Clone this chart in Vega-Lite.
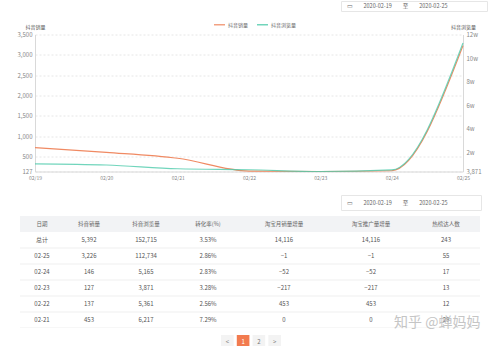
{
  "$schema": "https://vega.github.io/schema/vega-lite/v6.json",
  "background": "white",
  "padding": 0,
  "config": {"view": {"stroke": null}, "font": "Noto Sans CJK SC"},
  "datasets": {
    "trend": [
      {"date": "02/19", "sales": 715, "views": 10400},
      {"date": "02/20", "sales": 600, "views": 9400},
      {"date": "02/21", "sales": 453, "views": 6217},
      {"date": "02/22", "sales": 137, "views": 5361},
      {"date": "02/23", "sales": 127, "views": 3871},
      {"date": "02/24", "sales": 146, "views": 5165},
      {"date": "02/25", "sales": 3226, "views": 112734}
    ],
    "table": [
      {"d": "总计", "sales": 5392, "views": 152715, "conv": 0.0353, "tbm": 14116, "tbp": 14116, "hot": 243},
      {"d": "02-25", "sales": 3226, "views": 112734, "conv": 0.0286, "tbm": -1, "tbp": -1, "hot": 55},
      {"d": "02-24", "sales": 146, "views": 5165, "conv": 0.0283, "tbm": -52, "tbp": -52, "hot": 17},
      {"d": "02-23", "sales": 127, "views": 3871, "conv": 0.0328, "tbm": -217, "tbp": -217, "hot": 13},
      {"d": "02-22", "sales": 137, "views": 5361, "conv": 0.0256, "tbm": 453, "tbp": 453, "hot": 12},
      {"d": "02-21", "sales": 453, "views": 6217, "conv": 0.0729, "tbm": 0, "tbp": 0, "hot": 29}
    ]
  },
  "spacing": 13,
  "vconcat": [
    {
      "spacing": 12.5,
      "vconcat": [
        {
          "spacing": 0,
          "hconcat": [
            {"width": 340, "height": 10, "data": {"values": [{}]}, "mark": "text", "encoding": {"text": {"value": ""}}},
            {"width": 146, "height": 10, "view": {"stroke": "#e6e6e6"}, "data": {"values": [{}]},
             "mark": {"type": "text", "fontSize": 5.5, "color": "#666", "dx": -17},
             "encoding": {"text": {"value": "▭\u2003\u20032020-02-19\u2003\u2003至\u2003\u20032020-02-25"}}}
          ]
        },
        {
          "spacing": 0,
          "hconcat": [
            {"width": 17, "height": 1, "data": {"values": [{}]}, "mark": "text", "encoding": {"text": {"value": ""}}},
            {
              "width": 428,
              "height": 137,
              "data": {"name": "trend"},
              "encoding": {
                "x": {"field": "date", "type": "ordinal", "scale": {"type": "point", "padding": 0},
                      "axis": {"title": null, "labelAngle": 0, "labelFontSize": 5, "labelColor": "#888", "labelPadding": 4, "ticks": false, "domainColor": "#d9d9d9", "grid": false}}
              },
              "layer": [
                {
                  "mark": {"type": "line", "interpolate": "monotone", "strokeWidth": 1.2},
                  "encoding": {
                    "y": {"field": "sales", "type": "quantitative", "scale": {"domain": [127, 3500], "nice": false, "zero": false},
                          "axis": {"values": [127, 500, 1000, 1500, 2000, 2500, 3000, 3500], "format": ",.0f", "labelFontSize": 6, "labelColor": "#888", "labelPadding": 3, "ticks": false, "domainColor": "#d9d9d9", "gridColor": "#e6e6e6", "gridDash": [2, 2],
                                   "title": "抖音销量", "titleAngle": 0, "titleX": 0, "titleY": -8, "titleAlign": "center", "titleBaseline": "middle", "titleFontSize": 5, "titleFontWeight": "normal", "titleColor": "#555"}},
                    "color": {"datum": "抖音销量", "type": "nominal",
                              "scale": {"domain": ["抖音销量", "抖音浏览量"], "range": ["#f08a63", "#4ecbab"]},
                              "legend": {"orient": "none", "legendX": 213, "legendY": 17, "direction": "horizontal", "title": null, "symbolType": "stroke", "symbolSize": 120, "symbolStrokeWidth": 1.5, "labelFontSize": 5, "labelColor": "#666", "labelOffset": 2, "columnPadding": 5}}
                  }
                },
                {
                  "mark": {"type": "line", "interpolate": "monotone", "strokeWidth": 1.2, "opacity": 0.8},
                  "encoding": {
                    "y": {"field": "views", "type": "quantitative", "scale": {"domain": [3871, 120000], "nice": false, "zero": false},
                          "axis": {"orient": "right", "values": [3871, 20000, 40000, 60000, 80000, 100000, 120000], "labelExpr": "datum.value == 3871 ? '3,871' : (datum.value / 10000) + 'w'", "labelFontSize": 6, "labelColor": "#888", "labelPadding": 3, "ticks": false, "domainColor": "#d9d9d9", "gridColor": "#e6e6e6", "gridDash": [2, 2],
                                   "title": "抖音浏览量", "titleAngle": 0, "titleX": 0, "titleY": -8, "titleAlign": "center", "titleBaseline": "middle", "titleFontSize": 5, "titleFontWeight": "normal", "titleColor": "#555"}},
                    "color": {"datum": "抖音浏览量", "type": "nominal"}
                  }
                }
              ],
              "resolve": {"scale": {"y": "independent"}}
            }
          ]
        }
      ]
    },
    {
      "spacing": 5,
      "vconcat": [
        {
          "spacing": 0,
          "hconcat": [
            {"width": 340, "height": 15, "data": {"values": [{}]}, "mark": "text", "encoding": {"text": {"value": ""}}},
            {"width": 140, "height": 15, "view": {"stroke": "#e6e6e6"}, "data": {"values": [{}]},
             "mark": {"type": "text", "fontSize": 5.5, "color": "#666", "dx": -14},
             "encoding": {"text": {"value": "▭\u2003\u20032020-02-19\u2003\u2003至\u2003\u20032020-02-25"}}}
          ]
        },
        {
          "spacing": 5,
          "vconcat": [
            {
              "spacing": 0,
              "hconcat": [
                {"width": 20, "height": 112, "data": {"values": [{}]}, "mark": "text", "encoding": {"text": {"value": ""}}},
                {"width": 44, "height": 112, "layer": [
                  {"data": {"values": [{}]}, "mark": {"type": "rect", "color": "#f2f3f5", "clip": true}, "encoding": {"y": {"datum": "header", "type": "nominal", "scale": {"domain": ["header", "总计", "02-25", "02-24", "02-23", "02-22", "02-21"], "paddingInner": 0, "paddingOuter": 0}, "axis": null}}},
                  {"data": {"name": "table"}, "mark": {"type": "rule", "color": "#ebebeb", "strokeWidth": 0.8, "clip": true}, "encoding": {"y": {"field": "d", "type": "nominal", "bandPosition": 1, "axis": null}}},
                  {"data": {"values": [{}]}, "mark": {"type": "text", "fontSize": 5.5, "color": "#666", "clip": true}, "encoding": {"y": {"datum": "header", "type": "nominal", "axis": null}, "text": {"value": "日期"}}},
                  {"data": {"name": "table"}, "mark": {"type": "text", "fontSize": 6, "color": "#555", "clip": true}, "encoding": {"y": {"field": "d", "type": "nominal", "axis": null}, "text": {"field": "d"}}}
                ]},
                {"width": 50, "height": 112, "layer": [
                  {"data": {"values": [{}]}, "mark": {"type": "rect", "color": "#f2f3f5", "clip": true}, "encoding": {"y": {"datum": "header", "type": "nominal", "scale": {"domain": ["header", "总计", "02-25", "02-24", "02-23", "02-22", "02-21"], "paddingInner": 0, "paddingOuter": 0}, "axis": null}}},
                  {"data": {"name": "table"}, "mark": {"type": "rule", "color": "#ebebeb", "strokeWidth": 0.8, "clip": true}, "encoding": {"y": {"field": "d", "type": "nominal", "bandPosition": 1, "axis": null}}},
                  {"data": {"values": [{}]}, "mark": {"type": "text", "fontSize": 5.5, "color": "#666", "clip": true}, "encoding": {"y": {"datum": "header", "type": "nominal", "axis": null}, "text": {"value": "抖音销量"}}},
                  {"data": {"name": "table"}, "mark": {"type": "text", "fontSize": 6, "color": "#555", "clip": true}, "encoding": {"y": {"field": "d", "type": "nominal", "axis": null}, "text": {"field": "sales", "format": ","}}}
                ]},
                {"width": 64, "height": 112, "layer": [
                  {"data": {"values": [{}]}, "mark": {"type": "rect", "color": "#f2f3f5", "clip": true}, "encoding": {"y": {"datum": "header", "type": "nominal", "scale": {"domain": ["header", "总计", "02-25", "02-24", "02-23", "02-22", "02-21"], "paddingInner": 0, "paddingOuter": 0}, "axis": null}}},
                  {"data": {"name": "table"}, "mark": {"type": "rule", "color": "#ebebeb", "strokeWidth": 0.8, "clip": true}, "encoding": {"y": {"field": "d", "type": "nominal", "bandPosition": 1, "axis": null}}},
                  {"data": {"values": [{}]}, "mark": {"type": "text", "fontSize": 5.5, "color": "#666", "clip": true}, "encoding": {"y": {"datum": "header", "type": "nominal", "axis": null}, "text": {"value": "抖音浏览量"}}},
                  {"data": {"name": "table"}, "mark": {"type": "text", "fontSize": 6, "color": "#555", "clip": true}, "encoding": {"y": {"field": "d", "type": "nominal", "axis": null}, "text": {"field": "views", "format": ","}}}
                ]},
                {"width": 60, "height": 112, "layer": [
                  {"data": {"values": [{}]}, "mark": {"type": "rect", "color": "#f2f3f5", "clip": true}, "encoding": {"y": {"datum": "header", "type": "nominal", "scale": {"domain": ["header", "总计", "02-25", "02-24", "02-23", "02-22", "02-21"], "paddingInner": 0, "paddingOuter": 0}, "axis": null}}},
                  {"data": {"name": "table"}, "mark": {"type": "rule", "color": "#ebebeb", "strokeWidth": 0.8, "clip": true}, "encoding": {"y": {"field": "d", "type": "nominal", "bandPosition": 1, "axis": null}}},
                  {"data": {"values": [{}]}, "mark": {"type": "text", "fontSize": 5.5, "color": "#666", "clip": true}, "encoding": {"y": {"datum": "header", "type": "nominal", "axis": null}, "text": {"value": "转化率(%)"}}},
                  {"data": {"name": "table"}, "mark": {"type": "text", "fontSize": 6, "color": "#555", "clip": true}, "encoding": {"y": {"field": "d", "type": "nominal", "axis": null}, "text": {"field": "conv", "format": ".2%"}}}
                ]},
                {"width": 92, "height": 112, "layer": [
                  {"data": {"values": [{}]}, "mark": {"type": "rect", "color": "#f2f3f5", "clip": true}, "encoding": {"y": {"datum": "header", "type": "nominal", "scale": {"domain": ["header", "总计", "02-25", "02-24", "02-23", "02-22", "02-21"], "paddingInner": 0, "paddingOuter": 0}, "axis": null}}},
                  {"data": {"name": "table"}, "mark": {"type": "rule", "color": "#ebebeb", "strokeWidth": 0.8, "clip": true}, "encoding": {"y": {"field": "d", "type": "nominal", "bandPosition": 1, "axis": null}}},
                  {"data": {"values": [{}]}, "mark": {"type": "text", "fontSize": 5.5, "color": "#666", "clip": true}, "encoding": {"y": {"datum": "header", "type": "nominal", "axis": null}, "text": {"value": "淘宝月销量增量"}}},
                  {"data": {"name": "table"}, "mark": {"type": "text", "fontSize": 6, "color": "#555", "clip": true}, "encoding": {"y": {"field": "d", "type": "nominal", "axis": null}, "text": {"field": "tbm", "format": ","}}}
                ]},
                {"width": 63, "height": 112, "layer": [
                  {"data": {"values": [{}]}, "mark": {"type": "rect", "color": "#f2f3f5", "clip": true}, "encoding": {"y": {"datum": "header", "type": "nominal", "scale": {"domain": ["header", "总计", "02-25", "02-24", "02-23", "02-22", "02-21"], "paddingInner": 0, "paddingOuter": 0}, "axis": null}}},
                  {"data": {"name": "table"}, "mark": {"type": "rule", "color": "#ebebeb", "strokeWidth": 0.8, "clip": true}, "encoding": {"y": {"field": "d", "type": "nominal", "bandPosition": 1, "axis": null}}},
                  {"data": {"values": [{}]}, "mark": {"type": "text", "fontSize": 5.5, "color": "#666", "clip": true, "dx": 9.5}, "encoding": {"y": {"datum": "header", "type": "nominal", "axis": null}, "text": {"value": "淘宝推广量增量"}}},
                  {"data": {"name": "table"}, "mark": {"type": "text", "fontSize": 6, "color": "#555", "clip": true, "dx": 9.5}, "encoding": {"y": {"field": "d", "type": "nominal", "axis": null}, "text": {"field": "tbp", "format": ","}}}
                ]},
                {"width": 87, "height": 112, "layer": [
                  {"data": {"values": [{}]}, "mark": {"type": "rect", "color": "#f2f3f5", "clip": true}, "encoding": {"y": {"datum": "header", "type": "nominal", "scale": {"domain": ["header", "总计", "02-25", "02-24", "02-23", "02-22", "02-21"], "paddingInner": 0, "paddingOuter": 0}, "axis": null}}},
                  {"data": {"name": "table"}, "mark": {"type": "rule", "color": "#ebebeb", "strokeWidth": 0.8, "clip": true}, "encoding": {"y": {"field": "d", "type": "nominal", "bandPosition": 1, "axis": null}}},
                  {"data": {"values": [{}]}, "mark": {"type": "text", "fontSize": 5.5, "color": "#666", "clip": true, "dx": 9.5}, "encoding": {"y": {"datum": "header", "type": "nominal", "axis": null}, "text": {"value": "热榜达人数"}}},
                  {"data": {"name": "table"}, "mark": {"type": "text", "fontSize": 6, "color": "#555", "clip": true, "dx": 9.5}, "encoding": {"y": {"field": "d", "type": "nominal", "axis": null}, "text": {"field": "hot"}}},
                  {"data": {"values": [{}]}, "mark": {"type": "text", "fontSize": 14, "color": "#bbbbbb", "opacity": 0.85, "align": "left", "dx": -42.5, "dy": 3}, "encoding": {"y": {"datum": "02-21", "type": "nominal", "axis": null}, "text": {"value": "知乎 @蝉妈妈"}}}
                ]}
              ]
            },
            {
              "spacing": 0,
              "hconcat": [
                {"width": 221, "height": 13, "data": {"values": [{}]}, "mark": "text", "encoding": {"text": {"value": ""}}},
                {"width": 60, "height": 13,
                 "data": {"values": [{"p": "<"}, {"p": "1"}, {"p": "2"}, {"p": ">"}]},
                 "encoding": {"x": {"field": "p", "type": "nominal", "sort": null, "scale": {"domain": ["<", "1", "2", ">"], "paddingInner": 0.2, "paddingOuter": 0}, "axis": null}},
                 "layer": [
                   {"mark": {"type": "rect"}, "encoding": {"fill": {"condition": {"test": "datum.p == '1'", "value": "#f27b4f"}, "value": "#f3f3f3"}}},
                   {"mark": {"type": "text", "fontSize": 6}, "encoding": {"text": {"field": "p"}, "color": {"condition": {"test": "datum.p == '1'", "value": "#ffffff"}, "value": "#777777"}}}
                 ]}
              ]
            }
          ]
        }
      ]
    }
  ]
}
